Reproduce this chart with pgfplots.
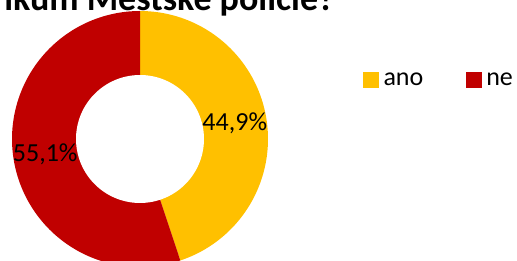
\documentclass[border=0pt]{standalone}
\usepackage{fontspec}
\setmainfont{Carlito}
\usepackage{pgfplots}
\pgfplotsset{compat=1.18}
\usepackage{pgfplotstable}
\definecolor{ano}{HTML}{FFC000}
\definecolor{ne}{HTML}{C00000}
\pgfplotstableread{
kat hodnota
ano 44.9
ne 55.1
}\data
\pgfplotstablegetelem{0}{hodnota}\of\data \let\vano\pgfplotsretval
\pgfplotstablegetelem{1}{hodnota}\of\data \let\vne\pgfplotsretval
\pgfmathsetmacro{\aA}{90}
\pgfmathsetmacro{\aB}{90-3.6*\vano}
\pgfmathsetmacro{\aC}{\aB-3.6*\vne}
\pgfmathsetmacro{\mA}{(\aA+\aB)/2}
\pgfmathsetmacro{\mB}{(\aB+\aC)/2}
\begin{document}
\begin{tikzpicture}
\useasboundingbox (0,0) rectangle (517pt,261pt);
\clip (0,0) rectangle (517pt,261pt);
\node[anchor=base east, font=\bfseries\fontsize{36}{43}\selectfont, inner sep=0pt] at (335pt,250pt) {ikum Městské policie?};
\begin{axis}[
  at={(140pt,122pt)}, anchor=origin,
  width=256pt, height=256pt, scale only axis,
  xmin=-1, xmax=1, ymin=-1, ymax=1,
  hide axis, clip=false,
  legend image code/.code={\fill[#1] (0pt,-8pt) rectangle (16pt,8pt);},
  legend columns=2,
  legend style={at={(1.3711,0.7305)}, anchor=west, draw=none, fill=none,
    inner sep=0pt, outer sep=0pt,
    font=\fontsize{26}{31}\selectfont,
    nodes={inner xsep=4.5pt, inner ysep=0pt},
    /tikz/every even column/.append style={column sep=38pt}},
]
\addplot[forget plot, draw=none, fill=ano, domain=\aB:\aA, samples=120, variable=\t] ({cos(\t)},{sin(\t)}) -- (axis cs:0,0) -- cycle;
\addplot[forget plot, draw=none, fill=ne, domain=\aC:\aB, samples=120, variable=\t] ({cos(\t)},{sin(\t)}) -- (axis cs:0,0) -- cycle;
\addplot[forget plot, draw=none, fill=white, domain=0:360, samples=120, variable=\t] ({0.5*cos(\t)},{0.5*sin(\t)}) -- cycle;
\node[font=\fontsize{26}{31}\selectfont, inner sep=0pt] at (axis cs:{0.75*cos(\mA)},{0.75*sin(\mA)}) {44,9\%};
\node[font=\fontsize{26}{31}\selectfont, inner sep=0pt] at (axis cs:{0.75*cos(\mB)},{0.75*sin(\mB)}) {55,1\%};
\addlegendimage{fill=ano, draw=none}
\addlegendentry{ano}
\addlegendimage{fill=ne, draw=none}
\addlegendentry{ne}
\end{axis}
\end{tikzpicture}
\end{document}
